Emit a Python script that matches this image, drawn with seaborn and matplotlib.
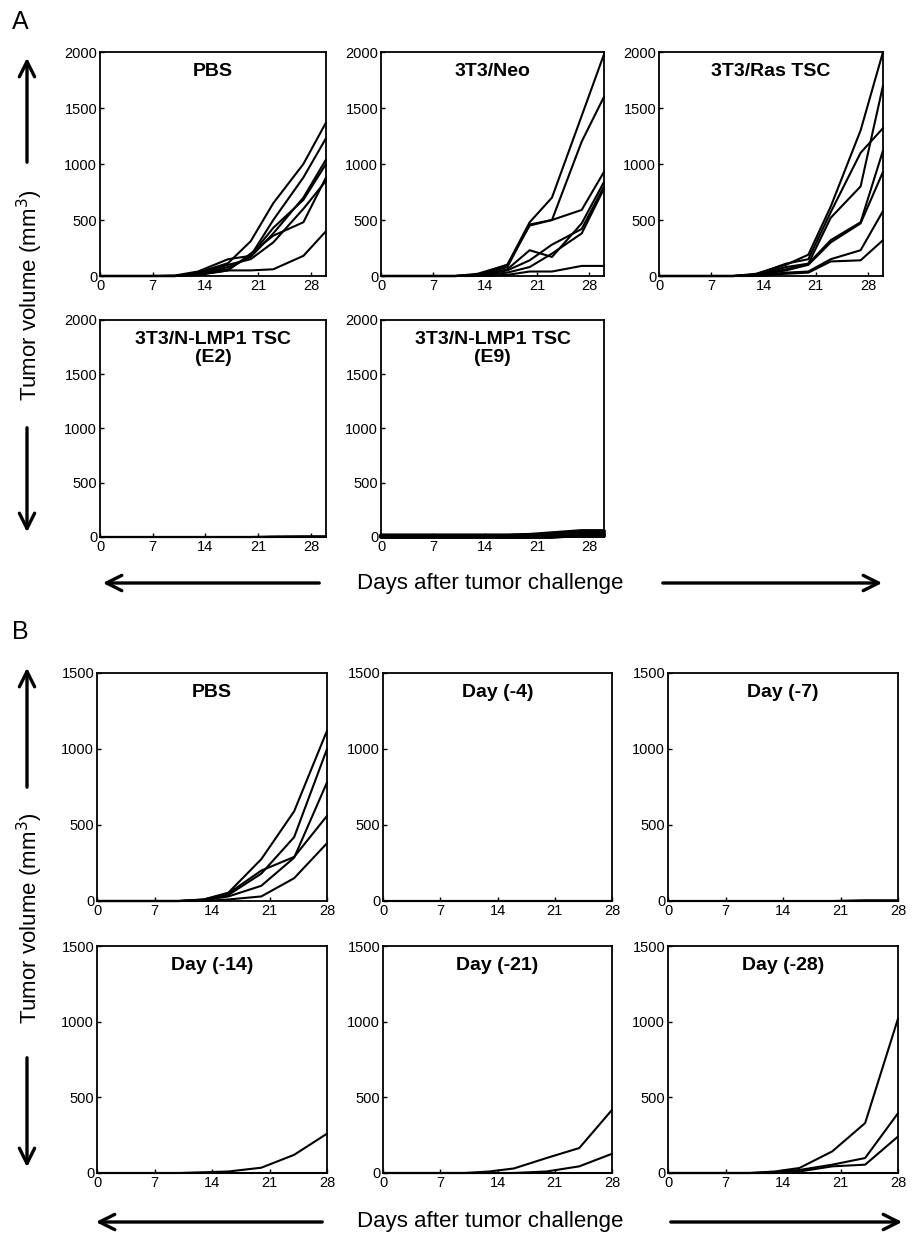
import numpy as np
import pandas as pd
import seaborn as sns
import matplotlib.pyplot as plt

#---------------------------- data ----------------------------#
# panel A : days 0-30, one row per mouse
a_days = [0, 3, 7, 10, 13, 17, 20, 23, 27, 30]

a_pbs = [
    [0, 0, 0, 0, 30, 115, 310, 650, 1000, 1370],
    [0, 0, 0, 0, 20, 60, 180, 500, 880, 1230],
    [0, 0, 0, 0, 15, 80, 170, 380, 700, 1040],
    [0, 0, 0, 5, 40, 150, 180, 430, 680, 1000],
    [0, 0, 0, 0, 10, 50, 200, 360, 480, 880],
    [0, 0, 0, 0, 20, 100, 150, 300, 600, 850],
    [0, 0, 0, 0, 10, 50, 50, 60, 180, 400],
]
a_neo = [
    [0, 0, 0, 0, 20, 100, 480, 700, 1430, 1980],
    [0, 0, 0, 0, 10, 80, 460, 500, 1200, 1600],
    [0, 0, 0, 0, 10, 100, 450, 500, 590, 930],
    [0, 0, 0, 0, 5, 60, 230, 170, 470, 840],
    [0, 0, 0, 0, 5, 50, 140, 280, 420, 800],
    [0, 0, 0, 0, 5, 30, 80, 200, 380, 780],
    [0, 0, 0, 0, 0, 10, 40, 40, 90, 90],
]
a_ras = [
    [0, 0, 0, 0, 20, 100, 190, 620, 1300, 2000],
    [0, 0, 0, 0, 10, 80, 110, 520, 800, 1700],
    [0, 0, 0, 0, 15, 110, 150, 570, 1100, 1320],
    [0, 0, 0, 0, 10, 60, 110, 320, 480, 1120],
    [0, 0, 0, 0, 5, 50, 100, 300, 470, 930],
    [0, 0, 0, 0, 5, 30, 40, 150, 230, 580],
    [0, 0, 0, 0, 0, 20, 30, 130, 140, 320],
]
a_e2 = [
    [0, 0, 0, 0, 0, 0, 0, 0, 0, 0],
    [0, 0, 0, 0, 0, 0, 0, 0, 5, 5],
    [0, 0, 0, 0, 0, 0, 0, 5, 5, 5],
]
a_e9 = [
    [5, 5, 5, 5, 5, 5, 5, 10, 10, 10],
    [10, 10, 10, 10, 10, 10, 15, 25, 35, 35],
    [15, 15, 15, 15, 15, 15, 20, 35, 55, 55],
    [0, 0, 0, 0, 0, 0, 0, 0, 20, 20],
]

# panel B : days 0-28
b_days = [0, 3, 7, 10, 13, 16, 20, 24, 28]

b_pbs = [
    [0, 0, 0, 0, 10, 55, 275, 590, 1120],
    [0, 0, 0, 0, 5, 40, 180, 420, 1000],
    [0, 0, 0, 0, 5, 30, 100, 285, 780],
    [0, 0, 0, 0, 10, 50, 200, 290, 560],
    [0, 0, 0, 0, 0, 10, 30, 150, 380],
]
b_d4 = [
    [0, 0, 0, 0, 0, 0, 0, 0, 0],
    [0, 0, 0, 0, 0, 0, 0, 0, 0],
]
b_d7 = [
    [0, 0, 0, 0, 0, 0, 0, 0, 0],
    [0, 0, 0, 0, 0, 0, 0, 5, 5],
]
b_d14 = [
    [0, 0, 0, 0, 5, 10, 35, 120, 260],
    [0, 0, 0, 0, 0, 0, 0, 0, 0],
]
b_d21 = [
    [0, 0, 0, 0, 10, 30, 99, 165, 417],
    [0, 0, 0, 0, 0, 0, 10, 44, 127],
    [0, 0, 0, 0, 0, 0, 0, 0, 0],
]
b_d28 = [
    [0, 0, 0, 0, 10, 33, 143, 330, 1020],
    [0, 0, 0, 0, 5, 20, 55, 99, 395],
    [0, 0, 0, 0, 0, 10, 44, 55, 241],
    [0, 0, 0, 0, 0, 0, 0, 0, 0],
]

#---------------------------- figure ----------------------------#
sns.set_style('ticks')
plt.rcParams['font.family'] = ['Liberation Sans', 'DejaVu Sans']
plt.rcParams['text.color'] = 'black'
plt.rcParams['xtick.color'] = 'black'
plt.rcParams['ytick.color'] = 'black'
plt.rcParams['axes.edgecolor'] = 'black'

W, H = 913, 1237
fig = plt.figure(figsize=(W / 100, H / 100), dpi=100)


def add_ax(x0, x1, y0, y1):
    # pixel box -> figure fraction
    return fig.add_axes([x0 / W, 1 - y1 / H, (x1 - x0) / W, (y1 - y0) / H])


def draw(ax, days, curves, title, xmax, ymax, yticks):
    rows = []
    for i, c in enumerate(curves):
        for d, v in zip(days, c):
            rows.append((i, d, v))
    df = pd.DataFrame(rows, columns=['mouse', 'day', 'volume'])
    sns.lineplot(data=df, x='day', y='volume', units='mouse', estimator=None,
                 color='black', lw=1.5, ax=ax, legend=False)
    for ln in ax.lines:
        ln.set_clip_on(False)
    ax.set_xlim(0, xmax)
    ax.set_ylim(0, ymax)
    ax.set_xticks([0, 7, 14, 21, 28])
    ax.set_yticks(yticks)
    ax.tick_params(direction='in', length=3, labelsize=10.5, pad=2, width=1)
    ax.set_xlabel('')
    ax.set_ylabel('')
    for s in ax.spines.values():
        s.set_linewidth(1.3)
    ax.text(0.5, 0.95, title, transform=ax.transAxes, ha='center', va='top',
            fontsize=14, fontweight='bold', linespacing=1.1)


ya = [0, 500, 1000, 1500, 2000]
yb = [0, 500, 1000, 1500]

# panel A
draw(add_ax(100, 326, 52, 276), a_days, a_pbs, 'PBS', 30, 2000, ya)
draw(add_ax(381, 604, 52, 276), a_days, a_neo, '3T3/Neo', 30, 2000, ya)
draw(add_ax(659, 883, 52, 276), a_days, a_ras, '3T3/Ras TSC', 30, 2000, ya)
draw(add_ax(100, 326, 320, 537), a_days, a_e2, '3T3/N-LMP1 TSC\n(E2)', 30, 2000, ya)
draw(add_ax(381, 604, 320, 537), a_days, a_e9, '3T3/N-LMP1 TSC\n(E9)', 30, 2000, ya)
for ln in fig.axes[-1].lines:
    ln.set_linewidth(2.8)

# panel B
draw(add_ax(97, 327, 673, 901), b_days, b_pbs, 'PBS', 28, 1500, yb)
draw(add_ax(383, 612, 673, 901), b_days, b_d4, 'Day (-4)', 28, 1500, yb)
draw(add_ax(668, 898, 673, 901), b_days, b_d7, 'Day (-7)', 28, 1500, yb)
draw(add_ax(97, 327, 946, 1173), b_days, b_d14, 'Day (-14)', 28, 1500, yb)
draw(add_ax(383, 612, 946, 1173), b_days, b_d21, 'Day (-21)', 28, 1500, yb)
draw(add_ax(668, 898, 946, 1173), b_days, b_d28, 'Day (-28)', 28, 1500, yb)

#---------------------------- labels and arrows ----------------------------#
ov = fig.add_axes([0, 0, 1, 1])
ov.set_xlim(0, W)
ov.set_ylim(H, 0)
ov.axis('off')

arrow = dict(arrowstyle='->,head_length=1.1,head_width=0.55', lw=2.4, color='black')

ov.text(12, 22, 'A', fontsize=18, ha='left', va='center')
ov.text(12, 632, 'B', fontsize=18, ha='left', va='center')

for yc, up, down in [(295, (165, 55), (425, 535)), (918, (790, 665), (1055, 1170))]:
    ov.text(30, yc, 'Tumor volume (mm$^3$)', rotation=90, fontsize=16,
            ha='center', va='center')
    ov.annotate('', xy=(27, up[1]), xytext=(27, up[0]), arrowprops=arrow)
    ov.annotate('', xy=(27, down[1]), xytext=(27, down[0]), arrowprops=arrow)

for yc, left, right in [(583, (322, 100), (660, 885)), (1222, (325, 93), (668, 905))]:
    ov.text(490, yc, 'Days after tumor challenge', fontsize=16,
            ha='center', va='center')
    ov.annotate('', xy=(left[1], yc), xytext=(left[0], yc), arrowprops=arrow)
    ov.annotate('', xy=(right[1], yc), xytext=(right[0], yc), arrowprops=arrow)

fig.savefig('out.png', dpi=100)
